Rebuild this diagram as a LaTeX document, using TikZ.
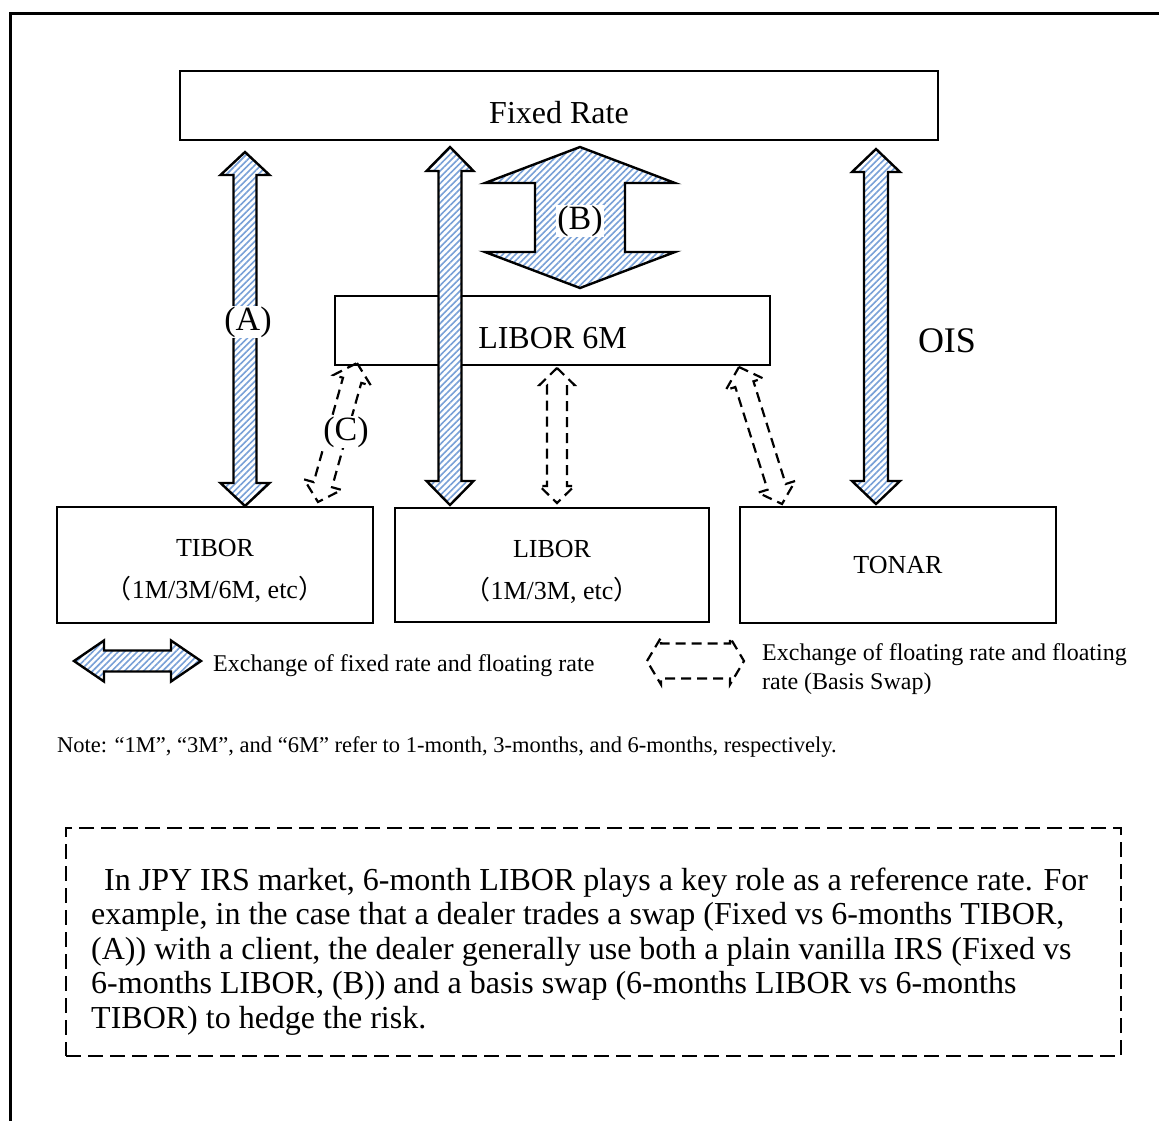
\documentclass[tikz,border=0pt]{standalone}
\usepackage{fontspec}
\setmainfont{Liberation Serif}
\newfontfamily\cjk{Noto Sans CJK SC}
\usetikzlibrary{calc,patterns.meta}
\definecolor{hatchblue}{RGB}{120,160,215}
\newcommand\fsz[2]{\fontsize{#1}{#2}\selectfont}
\tikzset{
  dblarrow/.style n args={3}{to path={
    let \p1=(\tikztostart), \p2=(\tikztotarget),
        \n1={veclen(\x2-\x1,\y2-\y1)},
        \n2={(\x2-\x1)/\n1}, \n3={(\y2-\y1)/\n1}
    in
    -- ({\x1+(#3)*(\n2)-(#2)/2*(\n3)},{\y1+(#3)*(\n3)+(#2)/2*(\n2)})
    -- ({\x1+(#3)*(\n2)-(#1)/2*(\n3)},{\y1+(#3)*(\n3)+(#1)/2*(\n2)})
    -- ({\x2-(#3)*(\n2)-(#1)/2*(\n3)},{\y2-(#3)*(\n3)+(#1)/2*(\n2)})
    -- ({\x2-(#3)*(\n2)-(#2)/2*(\n3)},{\y2-(#3)*(\n3)+(#2)/2*(\n2)})
    -- (\p2)
    -- ({\x2-(#3)*(\n2)+(#2)/2*(\n3)},{\y2-(#3)*(\n3)-(#2)/2*(\n2)})
    -- ({\x2-(#3)*(\n2)+(#1)/2*(\n3)},{\y2-(#3)*(\n3)-(#1)/2*(\n2)})
    -- ({\x1+(#3)*(\n2)+(#1)/2*(\n3)},{\y1+(#3)*(\n3)-(#1)/2*(\n2)})
    -- ({\x1+(#3)*(\n2)+(#2)/2*(\n3)},{\y1+(#3)*(\n3)-(#2)/2*(\n2)})
    -- cycle}},
  fixedswap/.style={draw=black, line width=2.4pt, line join=miter,
    preaction={fill=white},
    pattern={Lines[angle=45,distance=4.5pt,line width=1.6pt]}, pattern color=hatchblue},
  basisswap/.style={draw=black, line width=2.2pt, dash pattern=on 10pt off 6pt, line join=miter},
  ratebox/.style={draw=black, line width=2pt, fill=white, inner sep=0pt, align=center},
  swaplabel/.style={fill=white, inner sep=1pt, font=\fsz{34}{40}},
}
\begin{document}
\begin{tikzpicture}[x=1pt,y=1pt]
\useasboundingbox (0,0) rectangle (1159,-1120);
\clip (0,0) rectangle (1159,-1120);
\fill[white] (0,0) rectangle (1159,-1120);
\draw[line width=3pt] (10,-13) rectangle (1185,-1145);

% boxes
\node[ratebox, minimum width=758pt, minimum height=69pt, text height=36pt, text depth=0pt, font=\fsz{32}{38}] (fixed) at (559,-105.5) {Fixed Rate};
\node[ratebox, minimum width=435pt, minimum height=69pt, text height=35pt, text depth=0pt, font=\fsz{32}{38}] (libor6m) at (552.5,-330.5) {LIBOR 6M};
\node[ratebox, minimum width=316pt, minimum height=116pt, font=\fsz{26}{42}] (tibor) at (215,-565) {\rule{0pt}{29pt}TIBOR\\{\cjk （}1M/3M/6M, etc{\cjk ）}};
\node[ratebox, minimum width=314pt, minimum height=114pt, font=\fsz{26}{42}] (libor) at (552,-565) {\rule{0pt}{31pt}LIBOR\\{\cjk （}1M/3M, etc{\cjk ）}};
\node[ratebox, minimum width=316pt, minimum height=116pt, font=\fsz{26}{42}] (tonar) at (898,-565) {TONAR};

% connector end points
\coordinate (aTop) at (245,-152);
\coordinate (aBot) at (tibor.north -| aTop);
\coordinate (mTop) at (450,-147);
\coordinate (mBot) at (450,-505);
\coordinate (oTop) at (876,-149);
\coordinate (oBot) at (876,-504);
\coordinate (bTop) at (580,-147);
\coordinate (bBot) at (580,-288);
\coordinate (cTop) at (357,-363);
\coordinate (cBot) at (318,-502);
\coordinate (dTop) at (557,-368);
\coordinate (dBot) at (557,-503);
\coordinate (eTop) at (739,-367);
\coordinate (eBot) at (782,-504);

% fixed vs floating swaps
\draw[fixedswap, dblarrow={23}{49}{23}] (aTop) to (aBot);
\draw[fixedswap, dblarrow={23}{47}{24}] (mTop) to (mBot);
\draw[fixedswap, dblarrow={24}{48}{23}] (oTop) to (oBot);
\draw[fixedswap, dblarrow={90}{190}{36}] (bTop) to (bBot);

% basis swaps
\draw[basisswap, dblarrow={19}{39}{18}] (cTop) to (cBot);
\draw[basisswap, dblarrow={20}{35}{17}] (dTop) to (dBot);
\draw[basisswap, dblarrow={19}{39}{18}] (eTop) to (eBot);

% labels
\node[swaplabel] (labA) at (248,-322) {(A)};
\node[swaplabel] (labB) at (580,-221) {(B)};
\node[swaplabel] (labC) at (346,-432) {(C)};
\node[font=\fsz{36}{40}] (ois) at (947,-341) {OIS};

% legend
\coordinate (legAl) at (74,-661);
\coordinate (legAr) at (201,-661);
\draw[fixedswap, dblarrow={21}{41}{30}] (legAl) to (legAr);
\node[anchor=west, inner sep=0pt, font=\fsz{24}{28}] (legAtext) at (213,-666) {Exchange of fixed rate and floating rate};
\coordinate (legBl) at (647,-661);
\coordinate (legBr) at (744,-661);
\draw[basisswap, dblarrow={35}{47}{14}] (legBl) to (legBr);
\node[anchor=west, align=left, inner sep=0pt, font=\fsz{24}{29}] (legBtext) at (762,-669) {Exchange of floating rate and floating\\rate (Basis Swap)};

% note
\node[anchor=west, inner sep=0pt, font=\fsz{22.5}{26}] (note) at (57,-747) {Note: “1M”, “3M”, and “6M” refer to 1-month, 3-months, and 6-months, respectively.};

% comment box
\node[draw=black, line width=2pt, dash pattern=on 15pt off 7pt, minimum width=1055pt, minimum height=228pt, inner sep=0pt] (memo) at (593.5,-942) {};
\node[anchor=north west, align=left, inner sep=0pt, font=\fsz{32}{34.5}] (para) at (91,-865.85) {\strut\hspace*{13pt}In JPY IRS market, 6-month LIBOR plays a key role as a reference rate. For\\example, in the case that a dealer trades a swap (Fixed vs 6-months TIBOR,\\(A)) with a client, the dealer generally use both a plain vanilla IRS (Fixed vs\\6-months LIBOR, (B)) and a basis swap (6-months LIBOR vs 6-months\\TIBOR) to hedge the risk.};
\end{tikzpicture}
\end{document}
